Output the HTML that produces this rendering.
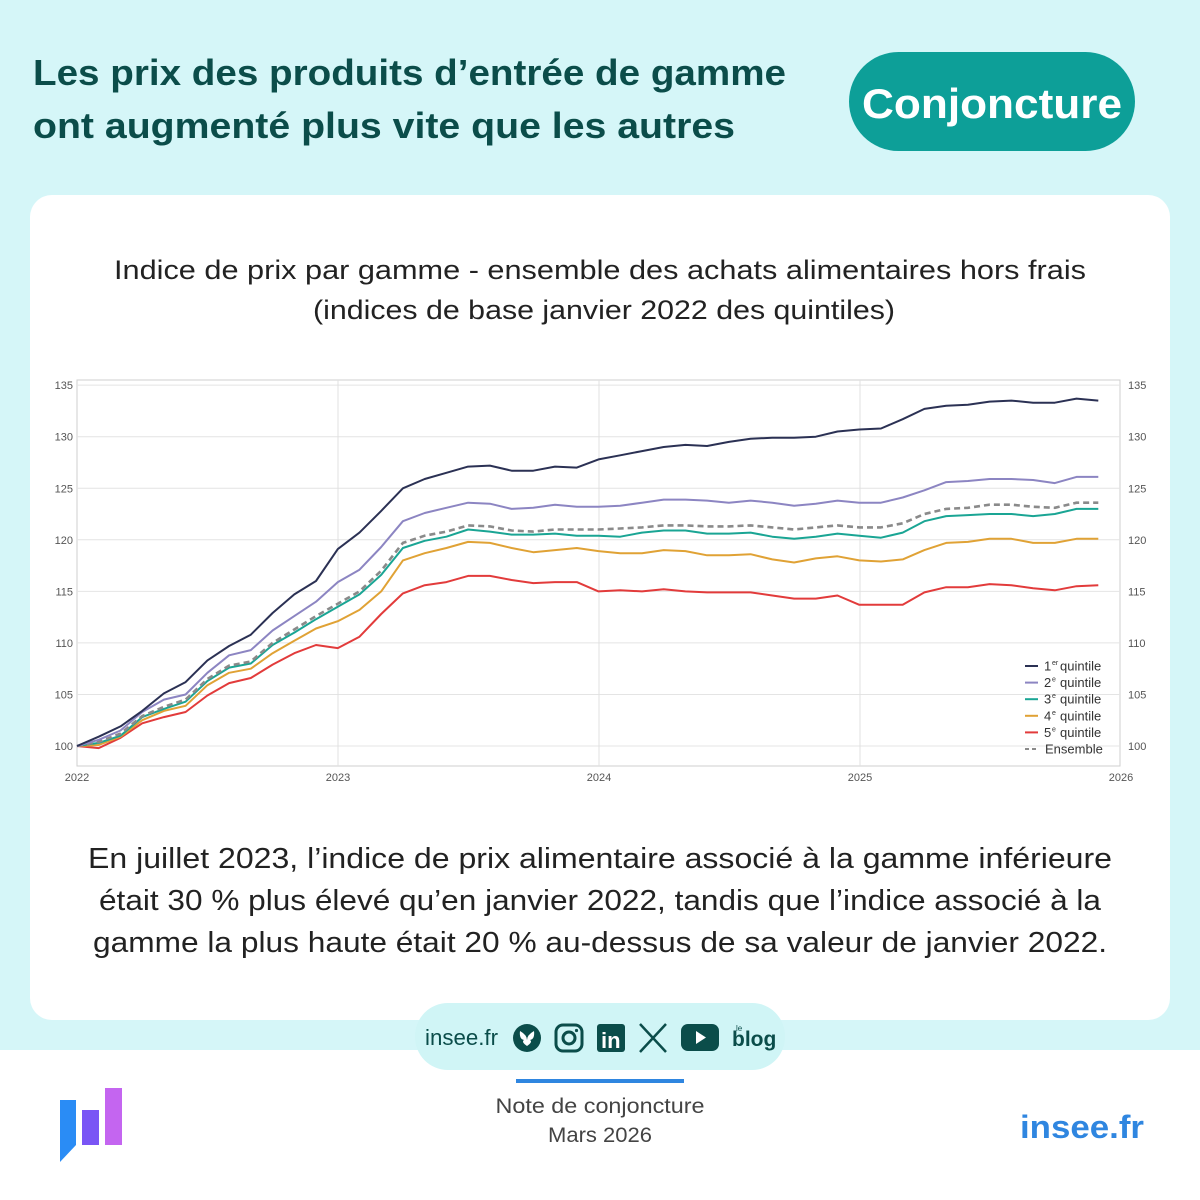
<!DOCTYPE html>
<html><head><meta charset="utf-8"><style>
html,body{margin:0;padding:0;width:1200px;height:1200px;overflow:hidden;background:#fff}
svg{display:block;font-family:"Liberation Sans",sans-serif}
</style></head><body>
<svg id="s" width="1200" height="1200" viewBox="0 0 1200 1200" xmlns="http://www.w3.org/2000/svg">
<rect x="0" y="0" width="1200" height="1050" fill="#d5f6f8"/>
<rect x="0" y="1050" width="1200" height="150" fill="#ffffff"/>
<text x="33" y="85" font-size="36" font-weight="bold" fill="#0b4d4a" textLength="753" lengthAdjust="spacingAndGlyphs">Les prix des produits d’entrée de gamme</text>
<text x="33" y="138" font-size="36" font-weight="bold" fill="#0b4d4a" textLength="702" lengthAdjust="spacingAndGlyphs">ont augmenté plus vite que les autres</text>
<rect x="849" y="52" width="286" height="99" rx="49.5" fill="#0d9f98"/>
<text x="992" y="118" font-size="42" font-weight="bold" fill="#fff" text-anchor="middle" textLength="260" lengthAdjust="spacingAndGlyphs">Conjoncture</text>
<rect x="30" y="195" width="1140" height="825" rx="22" fill="#fff"/>
<text x="600" y="279" font-size="27" fill="#222" text-anchor="middle" textLength="972" lengthAdjust="spacingAndGlyphs">Indice de prix par gamme - ensemble des achats alimentaires hors frais</text>
<text x="604" y="319" font-size="27" fill="#222" text-anchor="middle" textLength="582" lengthAdjust="spacingAndGlyphs">(indices de base janvier 2022 des quintiles)</text>
<g id="chart"></g>
<text x="600" y="868" font-size="29" fill="#222" text-anchor="middle" textLength="1024" lengthAdjust="spacingAndGlyphs">En juillet 2023, l’indice de prix alimentaire associé à la gamme inférieure</text>
<text x="600" y="910" font-size="29" fill="#222" text-anchor="middle" textLength="1002" lengthAdjust="spacingAndGlyphs">était 30 % plus élevé qu’en janvier 2022, tandis que l’indice associé à la</text>
<text x="600" y="952" font-size="29" fill="#222" text-anchor="middle" textLength="1014" lengthAdjust="spacingAndGlyphs">gamme la plus haute était 20 % au-dessus de sa valeur de janvier 2022.</text>
<rect x="415" y="1003" width="370" height="67" rx="33" fill="#d0f5f6"/>
<text x="425" y="1045" font-size="22" fill="#0b4d4a" textLength="73" lengthAdjust="spacingAndGlyphs">insee.fr</text>
<circle cx="527" cy="1038" r="14" fill="#0b4d4a"/>
<path d="M520 1031 q7 4 7 9 q0-5 7-9 q1 8-4 9 q3 2-3 6 q0-4-0-6 q0 2-0 6 q-6-4-3-6 q-5-1-4-9z" fill="#fff"/>
<rect x="556" y="1025" width="26" height="26" rx="7" fill="none" stroke="#0b4d4a" stroke-width="3"/>
<circle cx="569" cy="1038" r="6" fill="none" stroke="#0b4d4a" stroke-width="3"/>
<circle cx="576.5" cy="1030.5" r="1.6" fill="#0b4d4a"/>
<rect x="597" y="1024" width="28" height="28" rx="3" fill="#0b4d4a"/>
<text x="601" y="1048" font-size="22" font-weight="bold" fill="#fff">in</text>
<path d="M640 1024 L666 1052 M666 1024 L640 1052" stroke="#0b4d4a" stroke-width="2.5"/>
<rect x="681" y="1024" width="38" height="27" rx="7" fill="#0b4d4a"/>
<path d="M696 1031 L706 1037.5 L696 1044z" fill="#fff"/>
<text x="732" y="1046" font-size="21" font-weight="bold" fill="#0b4d4a">blog</text>
<text x="736" y="1031" font-size="8" fill="#0b4d4a">le</text>
<rect x="516" y="1079" width="168" height="4" fill="#2f86e0"/>
<text x="600" y="1113" font-size="21" fill="#444" text-anchor="middle" textLength="209" lengthAdjust="spacingAndGlyphs">Note de conjoncture</text>
<text x="600" y="1142" font-size="21" fill="#444" text-anchor="middle" textLength="104" lengthAdjust="spacingAndGlyphs">Mars 2026</text>
<path d="M60 1100 H76 V1145 L60 1162z" fill="#2a8cf5"/>
<rect x="82" y="1110" width="17" height="35" fill="#7a55f5"/>
<rect x="105" y="1088" width="17" height="57" fill="#c465f0"/>
<text x="1020" y="1138" font-size="32" font-weight="bold" fill="#2f86e0" textLength="124" lengthAdjust="spacingAndGlyphs">insee.fr</text>
</svg>
<script>
var NS="http://www.w3.org/2000/svg",g=document.getElementById('chart');
function el(t,a,txt){var e=document.createElementNS(NS,t);for(var k in a)e.setAttribute(k,a[k]);if(txt!=null)e.textContent=txt;g.appendChild(e);return e;}
var X0=77,X1=1120,Y=function(v){return 746-(v-100)*10.31;};
var pm=(X1-X0)/48;
el('rect',{x:X0,y:380,width:X1-X0,height:386,fill:'#fff',stroke:'#cfcfcf','stroke-width':1});
for(var v=100;v<=135;v+=5){var y=Y(v);el('line',{x1:X0,x2:X1,y1:y,y2:y,stroke:'#e4e4e4'});
el('text',{x:73,y:y+4,'font-size':11,fill:'#555','text-anchor':'end'},v);
el('text',{x:1128,y:y+4,'font-size':11,fill:'#555'},v);}
for(var i=0;i<=4;i++){var x=X0+i*261;if(i>0&&i<4)el('line',{x1:x,x2:x,y1:380,y2:766,stroke:'#e0e0e0'});
el('text',{x:x,y:781,'font-size':11,fill:'#555','text-anchor':'middle'},2022+i);}
var D={
q1:[100,100.9,101.9,103.4,105.1,106.2,108.3,109.7,110.8,112.9,114.7,116.0,119.1,120.7,122.8,125.0,125.9,126.5,127.1,127.2,126.7,126.7,127.1,127.0,127.8,128.2,128.6,129.0,129.2,129.1,129.5,129.8,129.9,129.9,130.0,130.5,130.7,130.8,131.7,132.7,133.0,133.1,133.4,133.5,133.3,133.3,133.7,133.5],
q2:[100,100.6,101.5,103.3,104.5,105.0,107.1,108.8,109.3,111.2,112.6,114.0,115.9,117.1,119.3,121.8,122.6,123.1,123.6,123.5,123.0,123.1,123.4,123.2,123.2,123.3,123.6,123.9,123.9,123.8,123.6,123.8,123.6,123.3,123.5,123.8,123.6,123.6,124.1,124.8,125.6,125.7,125.9,125.9,125.8,125.5,126.1,126.1],
en:[100,100.4,101.2,102.9,103.8,104.5,106.5,107.8,108.2,110.0,111.3,112.6,113.8,115.0,117.0,119.7,120.4,120.8,121.4,121.3,120.9,120.8,121.0,121.0,121.0,121.1,121.2,121.4,121.4,121.3,121.3,121.4,121.2,121.0,121.2,121.4,121.2,121.2,121.6,122.5,123.0,123.1,123.4,123.4,123.2,123.1,123.6,123.6],
q3:[100,100.3,101.0,102.8,103.6,104.3,106.3,107.6,108.0,109.8,111.0,112.3,113.5,114.7,116.6,119.2,119.9,120.3,121.0,120.8,120.5,120.5,120.6,120.4,120.4,120.3,120.7,120.9,120.9,120.6,120.6,120.7,120.3,120.1,120.3,120.6,120.4,120.2,120.7,121.8,122.3,122.4,122.5,122.5,122.3,122.5,123.0,123.0],
q4:[100,100.1,100.9,102.5,103.4,103.9,105.9,107.1,107.5,109.0,110.2,111.4,112.1,113.2,115.0,118.0,118.7,119.2,119.8,119.7,119.2,118.8,119.0,119.2,118.9,118.7,118.7,119.0,118.9,118.5,118.5,118.6,118.1,117.8,118.2,118.4,118.0,117.9,118.1,119.0,119.7,119.8,120.1,120.1,119.7,119.7,120.1,120.1],
q5:[100,99.8,100.8,102.2,102.8,103.3,104.9,106.1,106.6,107.9,109.0,109.8,109.5,110.6,112.8,114.8,115.6,115.9,116.5,116.5,116.1,115.8,115.9,115.9,115.0,115.1,115.0,115.2,115.0,114.9,114.9,114.9,114.6,114.3,114.3,114.6,113.7,113.7,113.7,114.9,115.4,115.4,115.7,115.6,115.3,115.1,115.5,115.6]};
var S=[['q5','#e23b3b',0],['q4','#e0a235',0],['q3','#1aa594',0],['en','#8a8a8a',1],['q2','#8c85c2',0],['q1','#2b3154',0]];
S.forEach(function(s){var p=D[s[0]].map(function(v,i){return (X0+i*pm).toFixed(1)+','+Y(v).toFixed(1)}).join(' ');
var a={points:p,fill:'none',stroke:s[1],'stroke-width':s[2]?2.6:2,'stroke-linejoin':'round'};if(s[2])a['stroke-dasharray']='6,4';el('polyline',a);});
var L=[['#2b3154','1','er'],['#8c85c2','2','e'],['#1aa594','3','e'],['#e0a235','4','e'],['#e23b3b','5','e'],['#8a8a8a','Ensemble',null]];
L.forEach(function(l,i){var y=666+i*16.6;var a={x1:1025,x2:1038,y1:y,y2:y,stroke:l[0],'stroke-width':2};if(!l[2])a['stroke-dasharray']='4,3';el('line',a);
if(l[2]){el('text',{x:1044,y:y+4.5,'font-size':13,fill:'#333'},l[1]);el('text',{x:1052,y:y-1,'font-size':7,fill:'#333'},l[2]);el('text',{x:1060,y:y+4.5,'font-size':13,fill:'#333'},'quintile');}
else el('text',{x:1045,y:y+4.5,'font-size':13,fill:'#333'},'Ensemble');});
</script>
</body></html>
